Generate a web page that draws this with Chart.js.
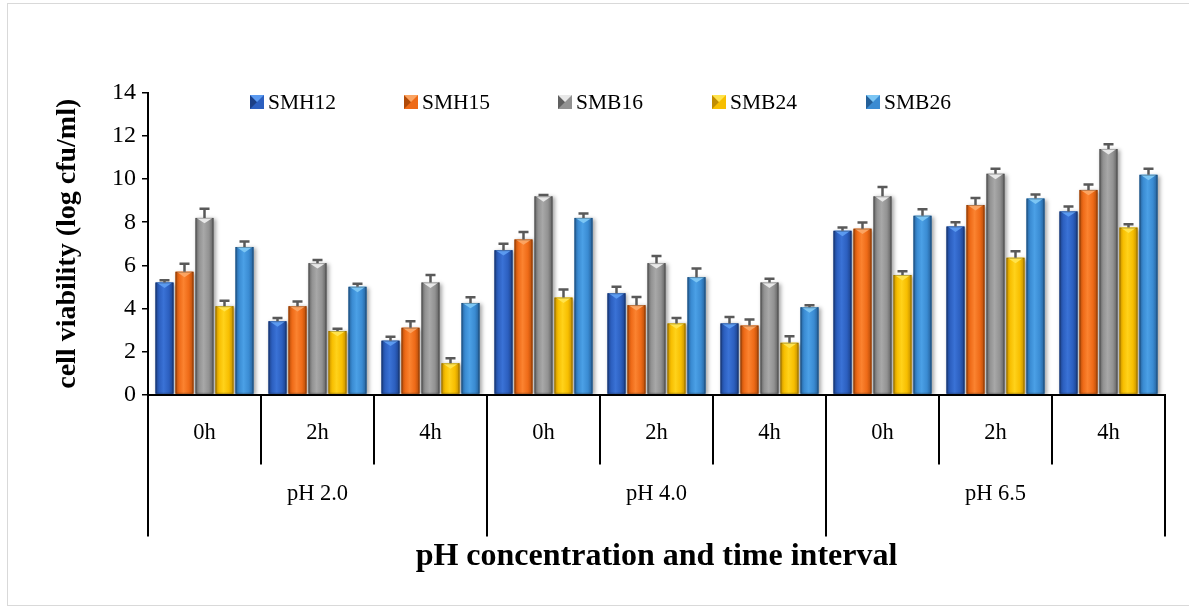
<!DOCTYPE html>
<html>
<head>
<meta charset="utf-8">
<title>Cell viability</title>
<script src="https://cdn.jsdelivr.net/npm/chart.js@4.4.0/dist/chart.umd.min.js"></script>
<style>
  body { margin: 0; background: #fff; }
  canvas { display: block; }
</style>
</head>
<body>
<canvas id="viabilityChart" width="1189" height="609"></canvas>
<script>
const timeLabels = ['0h', '2h', '4h', '0h', '2h', '4h', '0h', '2h', '4h'];
const phGroups = ['pH 2.0', 'pH 4.0', 'pH 6.5'];
const seriesNames = ['SMH12', 'SMH15', 'SMB16', 'SMB24', 'SMB26'];

const smh12 = [5.2, 3.4, 2.5, 6.7, 4.7, 3.3, 7.6, 7.8, 8.5];
const smh15 = [5.7, 4.1, 3.1, 7.2, 4.15, 3.2, 7.7, 8.8, 9.5];
const smb16 = [8.2, 6.1, 5.2, 9.2, 6.1, 5.2, 9.2, 10.25, 11.4];
const smb24 = [4.1, 2.95, 1.45, 4.5, 3.3, 2.4, 5.55, 6.35, 7.75];
const smb26 = [6.85, 5.0, 4.25, 8.2, 5.45, 4.05, 8.3, 9.1, 10.2];

const smh12Err = [0.1, 0.15, 0.18, 0.3, 0.3, 0.3, 0.15, 0.2, 0.23];
const smh15Err = [0.37, 0.22, 0.3, 0.35, 0.38, 0.28, 0.29, 0.32, 0.25];
const smb16Err = [0.43, 0.15, 0.35, 0.06, 0.33, 0.18, 0.43, 0.23, 0.22];
const smb24Err = [0.25, 0.1, 0.23, 0.38, 0.25, 0.3, 0.17, 0.3, 0.15];
const smb26Err = [0.26, 0.14, 0.26, 0.2, 0.4, 0.1, 0.3, 0.19, 0.28];

const yTicks = [0, 2, 4, 6, 8, 10, 12, 14];

const seriesValues = [smh12, smh15, smb16, smb24, smb26];
const seriesErrors = [smh12Err, smh15Err, smb16Err, smb24Err, smb26Err];

const baseColors = ['#2C5FBF', '#EE6A17', '#929292', '#F7BE00', '#3A8BD2'];
const edgeColors = ['#1B3F86', '#B04A08', '#5F5F5F', '#C08C00', '#245F98'];
const lightColors = ['#3A72D6', '#FB8330', '#A8A8A8', '#FFD21A', '#4BA0E6'];
const tipColors = ['#5B9AF0', '#FBA462', '#E8E8E8', '#FFE34D', '#7CC6F4'];

const serif = "'Liberation Serif', 'Times New Roman', serif";

// bars get a bevelled look on top of the plain fill
const bevelPlugin = {
    id: 'bevel',
    beforeDatasetsDraw(chart) {
        const ctx = chart.ctx;
        ctx.save();
        ctx.shadowColor = 'rgba(0,0,0,0.35)';
        ctx.shadowBlur = 4;
        ctx.shadowOffsetX = 2;
        ctx.shadowOffsetY = 1;
    },
    afterDatasetsDraw(chart) {
        const ctx = chart.ctx;
        ctx.restore();
        chart.data.datasets.forEach((ds, i) => {
            chart.getDatasetMeta(i).data.forEach(bar => {
                const w = bar.width;
                const left = bar.x - w / 2;
                const top = bar.y;
                const h = bar.base - bar.y;
                const g = ctx.createLinearGradient(left, 0, left + w, 0);
                g.addColorStop(0, edgeColors[i]);
                g.addColorStop(0.2, baseColors[i]);
                g.addColorStop(0.45, lightColors[i]);
                g.addColorStop(0.75, baseColors[i]);
                g.addColorStop(1, edgeColors[i]);
                ctx.fillStyle = g;
                ctx.fillRect(left, top, w, h);

                ctx.fillStyle = tipColors[i];
                ctx.beginPath();
                ctx.moveTo(left + 1, top);
                ctx.lineTo(left + w - 1, top);
                ctx.lineTo(bar.x, top + w * 0.3);
                ctx.closePath();
                ctx.fill();

                ctx.strokeStyle = 'rgba(0,0,0,0.25)';
                ctx.lineWidth = 1;
                ctx.strokeRect(left + 0.5, top + 0.5, w - 1, h - 1);
            });
        });
    }
};

// upper error bars
const errorBarPlugin = {
    id: 'errorBars',
    afterDatasetsDraw(chart) {
        const ctx = chart.ctx;
        const ys = chart.scales.y;
        ctx.save();
        ctx.strokeStyle = '#595959';
        ctx.lineWidth = 2.5;
        chart.data.datasets.forEach((ds, i) => {
            chart.getDatasetMeta(i).data.forEach((bar, j) => {
                const top = ys.getPixelForValue(seriesValues[i][j] + seriesErrors[i][j]);
                ctx.beginPath();
                ctx.moveTo(bar.x, bar.y);
                ctx.lineTo(bar.x, top);
                ctx.moveTo(bar.x - 5, top);
                ctx.lineTo(bar.x + 5, top);
                ctx.stroke();
            });
        });
        ctx.restore();
    }
};

// two level category axis (time inside pH group)
const groupAxisPlugin = {
    id: 'groupAxis',
    afterDraw(chart) {
        const ctx = chart.ctx;
        const xs = chart.scales.x;
        const base = chart.chartArea.bottom;
        const n = timeLabels.length;
        const half = (xs.getPixelForTick(1) - xs.getPixelForTick(0)) / 2;
        const perGroup = n / phGroups.length;

        ctx.save();
        ctx.strokeStyle = '#000';
        ctx.lineWidth = 2;
        for (let i = 0; i <= n; i++) {
            const px = i < n ? xs.getPixelForTick(i) - half : xs.getPixelForTick(n - 1) + half;
            const longLine = i % perGroup === 0;
            ctx.beginPath();
            ctx.moveTo(px, base);
            ctx.lineTo(px, base + (longLine ? 142 : 70));
            ctx.stroke();
        }

        ctx.fillStyle = '#000';
        ctx.textAlign = 'center';
        ctx.textBaseline = 'middle';
        ctx.font = '22.5px ' + serif;
        timeLabels.forEach((t, i) => {
            ctx.fillText(t, xs.getPixelForTick(i), base + 39);
        });
        phGroups.forEach((g, k) => {
            const a = xs.getPixelForTick(k * perGroup) - half;
            const b = xs.getPixelForTick((k + 1) * perGroup - 1) + half;
            ctx.fillText(g, (a + b) / 2, base + 100);
        });

        // outer frame of the picture
        ctx.strokeStyle = '#D9D9D9';
        ctx.lineWidth = 1;
        ctx.strokeRect(7.5, 3.5, chart.width, chart.height - 7);
        ctx.restore();
    }
};

// legend sits inside the plot, drawn by hand
const legendPlugin = {
    id: 'insideLegend',
    afterDraw(chart) {
        const ctx = chart.ctx;
        const y = 102;
        const box = 14;
        ctx.save();
        ctx.font = '21.5px ' + serif;
        ctx.textBaseline = 'middle';
        ctx.textAlign = 'left';
        chart.data.datasets.forEach((ds, i) => {
            const x = 250 + i * 154;
            ctx.fillStyle = baseColors[i];
            ctx.fillRect(x, y - box / 2, box, box);
            ctx.fillStyle = edgeColors[i];
            ctx.beginPath();
            ctx.moveTo(x, y - box / 2);
            ctx.lineTo(x + box / 2, y);
            ctx.lineTo(x, y + box / 2);
            ctx.closePath();
            ctx.fill();
            ctx.fillStyle = tipColors[i];
            ctx.beginPath();
            ctx.moveTo(x, y - box / 2);
            ctx.lineTo(x + box, y - box / 2);
            ctx.lineTo(x + box / 2, y);
            ctx.closePath();
            ctx.fill();
            ctx.fillStyle = '#000';
            ctx.fillText(ds.label, x + box + 4, y + 1);
        });
        ctx.restore();
    }
};

const datasets = seriesNames.map((name, i) => ({
    label: name,
    data: seriesValues[i],
    backgroundColor: baseColors[i],
    borderWidth: 0,
    barPercentage: 0.9,
    categoryPercentage: 0.885
}));

new Chart(document.getElementById('viabilityChart'), {
    type: 'bar',
    data: { labels: timeLabels, datasets: datasets },
    options: {
        responsive: false,
        devicePixelRatio: 1,
        animation: false,
        layout: { padding: { top: 93, right: 24, left: 0, bottom: 0 } },
        plugins: {
            legend: { display: false },
            tooltip: { enabled: false }
        },
        scales: {
            x: {
                grid: { display: false },
                ticks: { display: false },
                border: { color: '#000', width: 2 },
                title: {
                    display: true,
                    text: 'pH concentration and time interval',
                    color: '#000',
                    font: { family: serif, size: 32, weight: 'bold' },
                    padding: { top: 0, bottom: 33 }
                },
                afterFit(scale) { scale.height = 214.5; }
            },
            y: {
                min: 0,
                max: 14,
                afterBuildTicks(scale) { scale.ticks = yTicks.map(v => ({ value: v })); },
                grid: { drawOnChartArea: false, drawTicks: true, tickLength: 6, color: '#000', lineWidth: 1.5 },
                border: { color: '#000', width: 2 },
                ticks: {
                    color: '#000',
                    padding: 6,
                    font: { family: serif, size: 24 }
                },
                title: {
                    display: true,
                    text: 'cell viability (log cfu/ml)',
                    color: '#000',
                    font: { family: serif, size: 28, weight: 'bold' },
                    padding: { top: 51, bottom: 0 }
                },
                afterFit(scale) { scale.width = 148; }
            }
        }
    },
    plugins: [bevelPlugin, errorBarPlugin, groupAxisPlugin, legendPlugin]
});
</script>
</body>
</html>
